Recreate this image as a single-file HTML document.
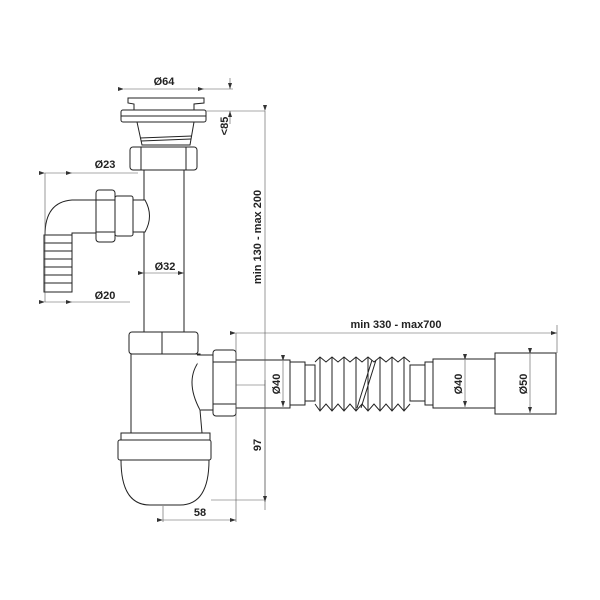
<!DOCTYPE html>
<html><head><style>html,body{margin:0;padding:0;background:#fff}svg{display:block}</style></head>
<body>
<svg width="600" height="600" viewBox="0 0 600 600" xmlns="http://www.w3.org/2000/svg" font-family="Liberation Sans, sans-serif" font-weight="bold" font-size="11">
<defs>
<marker id="a" markerWidth="6" markerHeight="4" refX="6" refY="2" orient="auto" markerUnits="userSpaceOnUse"><path d="M0,0 L6,2 L0,4 z" fill="#333"/></marker>
</defs>
<g fill="#fff" stroke="#222" stroke-width="1">
<path d="M128,98 L204,98 L204,103 L194,104 L194,110 L134,110 L134,104 L128,103 Z"/>
<rect x="121" y="110" width="85" height="12" rx="2"/>
<line x1="121" y1="116" x2="206" y2="116"/>
<path d="M137,122 L194,122 L190,145 L142,145 Z"/>
<line x1="140" y1="138" x2="192" y2="136"/>
<line x1="141" y1="141" x2="191" y2="139"/>
<rect x="130" y="147" width="67" height="23" rx="3"/>
<line x1="141" y1="147" x2="141" y2="170"/><line x1="186" y1="147" x2="186" y2="170"/>
<rect x="144" y="170" width="40" height="162"/>
<path d="M133,200 L145,200 Q154,216 145,232 L133,232 Z"/>
<rect x="115" y="196" width="18" height="40" rx="2"/>
<rect x="96" y="190" width="19" height="52" rx="3"/>
<line x1="96" y1="200" x2="115" y2="200"/><line x1="96" y1="232" x2="115" y2="232"/>
<path d="M96,200 L72,200 Q45,202 45,235 L72,235 L72,233 L96,233 Z"/>
<g>
<rect x="44" y="235" width="28" height="8"/><rect x="44" y="243" width="28" height="8"/>
<rect x="44" y="251" width="28" height="8"/><rect x="44" y="259" width="28" height="8"/>
<rect x="44" y="267" width="28" height="8"/><rect x="44" y="275" width="28" height="8"/>
<rect x="44" y="283" width="28" height="9"/>
</g>
<rect x="129" y="332" width="69" height="22" rx="3"/>
<line x1="162" y1="332" x2="162" y2="354"/>
<path d="M131,354 L200,354 L200,360 Q184,380 200,410 L202,433 L131,433 Z"/>
<path d="M197,355 L213,355 L213,410 L200,410"/>
<rect x="213" y="350" width="23" height="66" rx="3"/>
<line x1="213" y1="362" x2="236" y2="362"/><line x1="213" y1="404" x2="236" y2="404"/>
<rect x="121" y="433" width="89" height="7"/>
<rect x="118" y="440" width="93" height="20" rx="2"/>
<path d="M121,460 L209,460 Q209,505 180,505 L150,505 Q121,505 121,460 Z"/>
<rect x="236" y="360" width="54" height="48"/>
<rect x="290" y="362" width="15" height="43"/>
<rect x="305" y="365" width="10" height="36"/>
<rect x="410" y="365" width="15" height="36"/>
<rect x="425" y="362" width="8" height="43"/>
<rect x="433" y="359" width="62" height="49"/>
<rect x="495" y="353" width="61" height="61"/>
</g>
<g fill="none" stroke="#222" stroke-width="1">
<path d="M315,362 L320,357 L326,362 L332,357 L338,362 L344,357 L350,362 L356,357 L362,362 L368,357 L374,362 L380,357 L386,362 L392,357 L398,362 L404,357 L410,362"/>
<path d="M315,404 L320,411 L326,404 L332,411 L338,404 L344,411 L350,404 L356,411 L362,404 L368,411 L374,404 L380,411 L386,404 L392,411 L398,404 L404,411 L410,404"/>
<path d="M320,357 L320,411 M332,357 L332,411 M344,357 L344,411 M356,357 L356,411 M368,357 L368,411 M380,357 L380,411 M392,357 L392,411 M404,357 L404,411"/>
<path d="M372,360 L357,408 M376,360 L361,408"/>
</g>
<g stroke="#555" stroke-width="0.6" fill="none">
<line x1="124" y1="89" x2="204" y2="89" marker-start="url(#a)" marker-end="url(#a)"/>
<line x1="204" y1="89" x2="233" y2="89"/><line x1="206" y1="111" x2="265" y2="111"/>
<line x1="230" y1="78" x2="230" y2="89" marker-end="url(#a)"/>
<line x1="230" y1="124" x2="230" y2="111" marker-end="url(#a)"/>
<line x1="265" y1="111" x2="265" y2="510" marker-start="url(#a)"/>
<line x1="45" y1="173" x2="72" y2="173" marker-start="url(#a)" marker-end="url(#a)"/>
<line x1="72" y1="173" x2="138" y2="173"/>
<line x1="45" y1="173" x2="45" y2="302"/>
<line x1="45" y1="302" x2="72" y2="302" marker-start="url(#a)" marker-end="url(#a)"/>
<line x1="72" y1="302" x2="130" y2="302"/>
<line x1="144" y1="273" x2="184" y2="273" marker-start="url(#a)" marker-end="url(#a)"/>
<line x1="236" y1="333" x2="557" y2="333" marker-start="url(#a)" marker-end="url(#a)"/>
<line x1="236" y1="333" x2="236" y2="522"/><line x1="557" y1="325" x2="557" y2="353"/>
<line x1="163" y1="506" x2="163" y2="522"/>
<line x1="163" y1="520" x2="236" y2="520" marker-start="url(#a)" marker-end="url(#a)"/>
<line x1="265" y1="380" x2="265" y2="502" marker-end="url(#a)"/>
<line x1="211" y1="500" x2="265" y2="500"/>
<line x1="283" y1="361" x2="283" y2="407" marker-start="url(#a)" marker-end="url(#a)"/>
<line x1="465" y1="360" x2="465" y2="407" marker-start="url(#a)" marker-end="url(#a)"/>
<line x1="530" y1="354" x2="530" y2="413" marker-start="url(#a)" marker-end="url(#a)"/>
<line x1="236" y1="385" x2="265" y2="385"/>
</g>
<g fill="#222">
<text x="164" y="85" text-anchor="middle">Ø64</text>
<text x="105" y="168" text-anchor="middle">Ø23</text>
<text x="105" y="299" text-anchor="middle">Ø20</text>
<text x="165" y="270" text-anchor="middle">Ø32</text>
<text x="396" y="328" text-anchor="middle">min 330 - max700</text>
<text x="200" y="516" text-anchor="middle">58</text>
<text transform="translate(228,126) rotate(-90)" text-anchor="middle">&lt;85</text>
<text transform="translate(261,237) rotate(-90)" text-anchor="middle">min 130 - max 200</text>
<text transform="translate(261,445) rotate(-90)" text-anchor="middle">97</text>
<text transform="translate(280,384) rotate(-90)" text-anchor="middle">Ø40</text>
<text transform="translate(462,384) rotate(-90)" text-anchor="middle">Ø40</text>
<text transform="translate(527,384) rotate(-90)" text-anchor="middle">Ø50</text>
</g>
</svg>
</body></html>
